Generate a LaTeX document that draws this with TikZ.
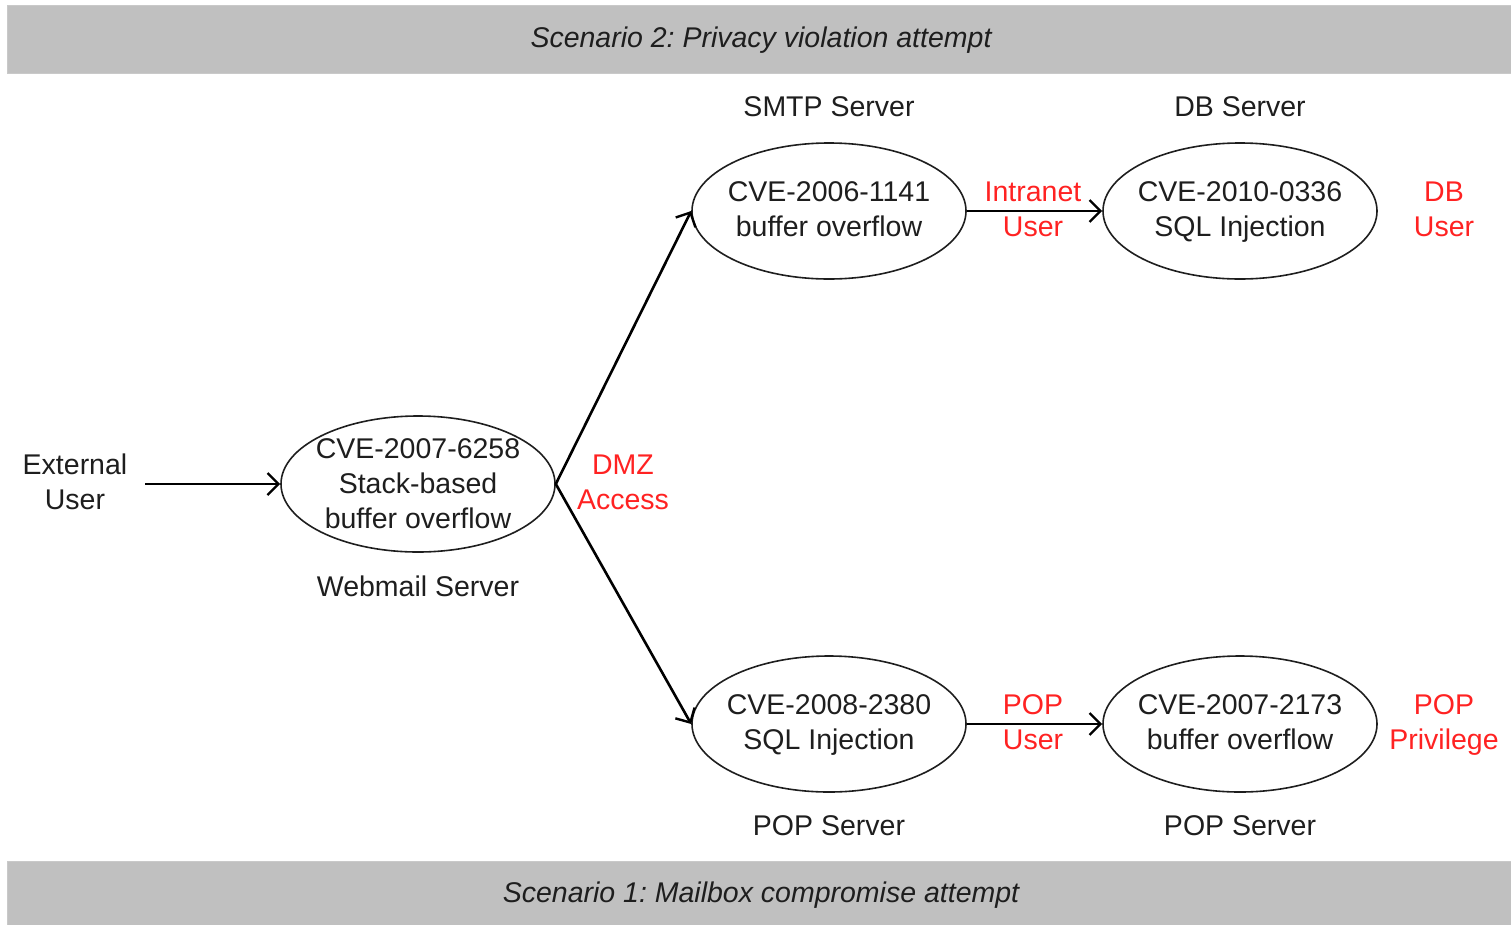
\documentclass[tikz,border=0pt]{standalone}
\usepackage{fontspec}
\setmainfont{Liberation Sans}
\frenchspacing
\usetikzlibrary{shapes.geometric,arrows.meta}
\definecolor{band}{HTML}{C0C0C0}
\definecolor{ink}{HTML}{1E1E1E}
\definecolor{hot}{HTML}{FF2222}
\tikzset{
  txt/.style={font=\fontsize{28.5}{35}\selectfont, text=ink, align=center, inner sep=0pt},
  redtxt/.style={txt, text=hot},
  vuln/.style={ellipse, draw=ink, line width=1.6pt, minimum width=274pt, minimum height=136pt,
    inner sep=0pt},
  edge/.style={line width=2.6pt, draw=black, -{Straight Barb[length=11pt,width=22pt,line width=2.4pt]}},
  bandbox/.style={fill=band, draw=band!85!white, line width=1pt},
  bandtxt/.style={txt, font=\fontsize{28.5}{35}\selectfont\itshape}
}
\begin{document}
\begin{tikzpicture}[x=1pt,y=-1pt]
\useasboundingbox (0,0) rectangle (1511,924);

% scenario bands
\path[bandbox] (7,5) rectangle (1515,73);
\node[bandtxt] (s2) at (761,40) {Scenario 2: Privacy violation attempt};
\path[bandbox] (7,861) rectangle (1515,930);
\node[bandtxt] (s1) at (761,895) {Scenario 1: Mailbox compromise attempt};

% vulnerability nodes (outline) with their descriptions
\node[vuln] (web)  at (418,484) {};
\node[vuln] (smtp) at (829,211) {};
\node[vuln] (db)   at (1240,211) {};
\node[vuln] (pop1) at (829,724) {};
\node[vuln] (pop2) at (1240,724) {};
\node[txt] (webt)  at (418,484) {CVE-2007-6258\\Stack-based\\buffer overflow};
\node[txt] (smtpt) at (829,209) {CVE-2006-1141\\buffer overflow};
\node[txt] (dbt)   at (1240,212) {CVE-2010-0336\\SQL Injection};
\node[txt] (pop1t) at (829,725) {CVE-2008-2380\\SQL Injection};
\node[txt] (pop2t) at (1240,722) {CVE-2007-2173\\buffer overflow};

% host labels
\node[txt] (lsmtp) at (829,107) {SMTP Server};
\node[txt] (ldb)   at (1240,107) {DB Server};
\node[txt] (lweb)  at (418,586) {Webmail Server};
\node[txt] (lpop1) at (829,826) {POP Server};
\node[txt] (lpop2) at (1240,826) {POP Server};

% attacker and privileges
\node[txt] (ext) at (75,482) {External\\User};
\coordinate (extout) at (145,484);
\node[redtxt] (dmz)   at (623,482) {DMZ\\Access};
\node[redtxt] (intra) at (1033,209) {Intranet\\User};
\node[redtxt] (dbu)   at (1444,209) {DB\\User};
\node[redtxt] (popu)  at (1033,722) {POP\\User};
\node[redtxt] (popp)  at (1444,725) {POP\\Privilege};

% attack steps
\draw[edge] (extout) -- (web.west);
\draw[edge] (web.east) -- (smtp.west);
\draw[edge] (web.east) -- (pop1.west);
\draw[edge] (smtp.east) -- (db.west);
\draw[edge] (pop1.east) -- (pop2.west);
\end{tikzpicture}
\end{document}
